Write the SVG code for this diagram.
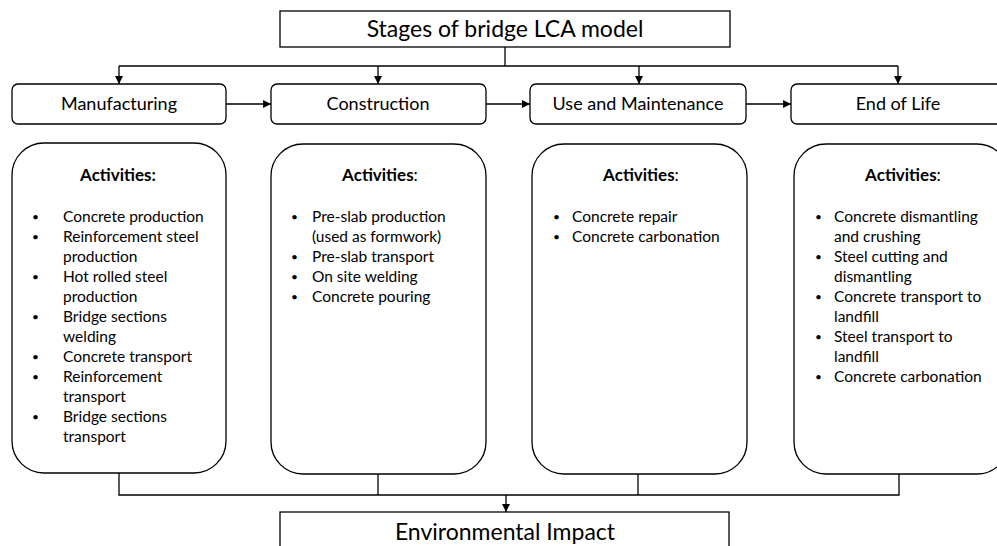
<svg xmlns="http://www.w3.org/2000/svg" width="997" height="546" viewBox="0 0 997 546">
  <style>
    .box { fill: #ffffff; stroke: #000000; stroke-width: 1.3; }
    .wire { fill: none; stroke: #000000; stroke-width: 1.3; }
    .title { font-family: Lato, "Liberation Sans", sans-serif; font-size: 23px; fill: #000000; text-anchor: middle; }
    .stage { font-family: Lato, "Liberation Sans", sans-serif; font-size: 18px; fill: #000000; text-anchor: middle; }
    .head { font-family: Lato, "Liberation Sans", sans-serif; font-size: 17px; font-weight: bold; fill: #000000; text-anchor: middle; }
    .plain { font-weight: normal; }
    .item { font-family: Lato, "Liberation Sans", sans-serif; font-size: 15.5px; fill: #000000; }
    .dot { font-size: 12px; }
  </style>
  <defs>
    <marker id="arrow" viewBox="0 0 10 10" refX="10" refY="5" markerWidth="8" markerHeight="8" markerUnits="userSpaceOnUse" orient="auto">
      <path d="M0,0 L10,5 L0,10 z" fill="#000000"/>
    </marker>
  </defs>

  <rect width="997" height="546" fill="#ffffff"/>

  <!-- connectors -->
  <g id="connectors">
    <path class="wire" d="M505,47 V66"/>
    <path class="wire" d="M119,66 H898"/>
    <path class="wire" d="M119,66 V84" marker-end="url(#arrow)"/>
    <path class="wire" d="M378,66 V84" marker-end="url(#arrow)"/>
    <path class="wire" d="M639,66 V84" marker-end="url(#arrow)"/>
    <path class="wire" d="M898,66 V84" marker-end="url(#arrow)"/>
    <path class="wire" d="M226,104 H271" marker-end="url(#arrow)"/>
    <path class="wire" d="M486,104 H530" marker-end="url(#arrow)"/>
    <path class="wire" d="M746,104 H791" marker-end="url(#arrow)"/>
    <path class="wire" d="M119,473 V495 H899 V473"/>
    <path class="wire" d="M378,474 V495"/>
    <path class="wire" d="M638,474 V495"/>
    <path class="wire" d="M506,495 V512" marker-end="url(#arrow)"/>
  </g>

  <g id="title">
    <rect class="box" x="280" y="11" width="450" height="36"/>
    <text class="title" x="505" y="37">Stages of bridge LCA model</text>
  </g>

  <g id="stage-manufacturing">
    <rect class="box" x="12" y="84" width="214" height="40" rx="6"/>
    <text class="stage" x="119" y="110">Manufacturing</text>
  </g>
  <g id="stage-construction">
    <rect class="box" x="271" y="84" width="215" height="40" rx="6"/>
    <text class="stage" x="378" y="110">Construction</text>
  </g>
  <g id="stage-use">
    <rect class="box" x="530" y="84" width="216" height="40" rx="6"/>
    <text class="stage" x="638" y="110">Use and Maintenance</text>
  </g>
  <g id="stage-eol">
    <rect class="box" x="791" y="84" width="216" height="40" rx="6"/>
    <text class="stage" x="898" y="110">End of Life</text>
  </g>

  <g id="activities-manufacturing">
    <rect class="box" x="12" y="143" width="214" height="330" rx="32"/>
    <text class="head" x="118" y="181">Activities:</text>
    <g class="item">
      <text class="dot" x="32" y="221">•</text><text x="63" y="222">Concrete production</text>
      <text class="dot" x="32" y="241">•</text><text x="63" y="242">Reinforcement steel</text>
      <text x="63" y="262">production</text>
      <text class="dot" x="32" y="281">•</text><text x="63" y="282">Hot rolled steel</text>
      <text x="63" y="302">production</text>
      <text class="dot" x="32" y="321">•</text><text x="63" y="322">Bridge sections</text>
      <text x="63" y="342">welding</text>
      <text class="dot" x="32" y="361">•</text><text x="63" y="362">Concrete transport</text>
      <text class="dot" x="32" y="381">•</text><text x="63" y="382">Reinforcement</text>
      <text x="63" y="402">transport</text>
      <text class="dot" x="32" y="421">•</text><text x="63" y="422">Bridge sections</text>
      <text x="63" y="442">transport</text>
    </g>
  </g>

  <g id="activities-construction">
    <rect class="box" x="271" y="144" width="215" height="330" rx="32"/>
    <text class="head" x="380" y="181">Activities<tspan class="plain">:</tspan></text>
    <g class="item">
      <text class="dot" x="291" y="221">•</text><text x="312" y="222">Pre-slab production</text>
      <text x="312" y="242">(used as formwork)</text>
      <text class="dot" x="291" y="261">•</text><text x="312" y="262">Pre-slab transport</text>
      <text class="dot" x="291" y="281">•</text><text x="312" y="282">On site welding</text>
      <text class="dot" x="291" y="301">•</text><text x="312" y="302">Concrete pouring</text>
    </g>
  </g>

  <g id="activities-use">
    <rect class="box" x="532" y="144" width="215" height="330" rx="32"/>
    <text class="head" x="641" y="181">Activities<tspan class="plain">:</tspan></text>
    <g class="item">
      <text class="dot" x="553" y="221">•</text><text x="572" y="222">Concrete repair</text>
      <text class="dot" x="553" y="241">•</text><text x="572" y="242">Concrete carbonation</text>
    </g>
  </g>

  <g id="activities-eol">
    <rect class="box" x="794" y="144" width="215" height="330" rx="32"/>
    <text class="head" x="903" y="181">Activities<tspan class="plain">:</tspan></text>
    <g class="item">
      <text class="dot" x="815" y="221">•</text><text x="834" y="222">Concrete dismantling</text>
      <text x="834" y="242">and crushing</text>
      <text class="dot" x="815" y="261">•</text><text x="834" y="262">Steel cutting and</text>
      <text x="834" y="282">dismantling</text>
      <text class="dot" x="815" y="301">•</text><text x="834" y="302">Concrete transport to</text>
      <text x="834" y="322">landfill</text>
      <text class="dot" x="815" y="341">•</text><text x="834" y="342">Steel transport to</text>
      <text x="834" y="362">landfill</text>
      <text class="dot" x="815" y="381">•</text><text x="834" y="382">Concrete carbonation</text>
    </g>
  </g>

  <g id="impact">
    <rect class="box" x="280" y="512" width="449" height="40"/>
    <text class="title" x="505" y="540">Environmental Impact</text>
  </g>
</svg>
